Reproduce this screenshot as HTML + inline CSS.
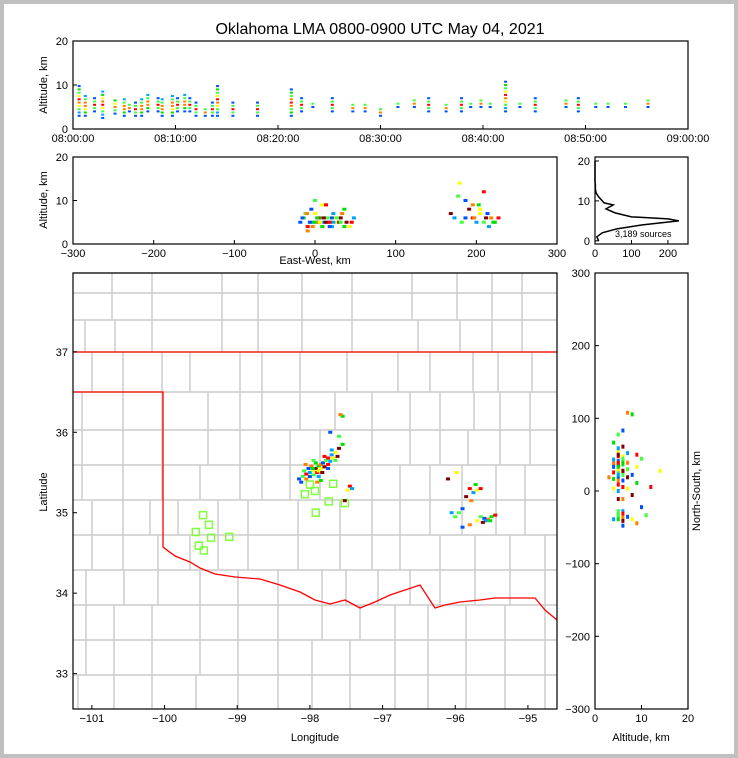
<!DOCTYPE html>
<html><head><meta charset="utf-8"><style>
html,body{margin:0;padding:0;background:#c0c0c0;}
#wrap{position:absolute;left:4px;top:4px;width:730px;height:750px;background:#fff;}
svg{position:absolute;left:0;top:0;font-family:"Liberation Sans",sans-serif;}
</style></head><body>
<div id="wrap"></div>
<svg id="chart" width="738" height="758"></svg>
<script>
// ---- data ----
const timeCols = [0.6,1.2,2.1,2.9,4.1,5,5.5,6.1,6.7,7.3,8.3,8.7,9.7,10.2,10.9,11.4,12,12.9,13.6,14.1,15.6,18,21.3,22.3,23.4,25.3,27.3,28.5,30,31.7,33.3,34.7,36.4,37.9,38.8,39.8,40.7,42.2,43.6,45.1,48.1,49.3,51,52.2,53.9,56.1];
const colLow  = [3,3,4,2.5,3.5,3,4,3,3,4,4,3,3,4,4,4,3,3,3,3,3,3,3,4,5,4,4,4,3,5,5,4,4,4,5,5,5,4,5,4,5,4,5,5,5,5];
const colHigh = [10,8,7,9,7,7,6,6,7,8,7,7,8,7,8,7,6,5,6,10,6,6,9,7,6,7,6,6,5,6,7,7,6,7,6,7,6,11,6,7,7,7,6,6,6,7];
const srcLon = [-98.15,-98.10,-98.05,-98.00,-97.95,-97.92,-97.88,-97.85,-97.82,-97.78,-97.75,-97.70,-97.65,-97.60,-97.55,-98.05,-98.00,-97.95,-97.90,-97.88,-97.85,-97.80,-97.92,-97.98,-98.02,-98.08,-97.75,-97.72,-97.68,-97.62,-97.85,-97.90,-98.12,-97.95,-97.80,-97.70,-97.88,-97.83,-97.96,-98.06,-97.75,-97.65,
 -97.45,-97.42,-97.48,-97.52,-97.55,-97.58,-97.72,-97.60,
 -95.80,-95.75,-95.70,-95.85,-95.72,-95.78,-95.90,-95.95,-95.65,-96.05,-95.98,-96.10,
 -95.50,-95.55,-95.60,-95.65,-95.45,-95.58,-95.70,-95.62,-95.52,-95.80,-95.90,-96.00];
const srcLat = [35.42,35.45,35.48,35.50,35.52,35.55,35.58,35.60,35.62,35.65,35.68,35.72,35.75,35.80,35.85,35.42,35.45,35.47,35.50,35.45,35.55,35.57,35.62,35.58,35.55,35.52,35.60,35.64,35.68,35.70,35.40,35.38,35.38,35.65,35.70,35.78,35.52,35.50,35.55,35.60,35.55,35.65,
 35.33,35.30,35.28,35.15,36.20,36.22,36.00,35.95,
 35.30,35.25,35.28,35.20,35.35,35.15,35.05,35.00,35.30,35.00,35.50,35.42,
 34.95,34.92,34.93,34.95,34.97,34.90,34.90,34.88,34.90,34.85,34.82,34.95];
const srcAlt = [5,6,4,5,7,5,6,4,5,6,5,7,5,6,4,3,8,5,6,5,9,5,6,4,5,7,5,4,6,5,4,5,6,10,9,5,5,6,5,7,4,6,
 5,6,4,5,8,7,6,5,
 6,5,7,8,9,6,10,5,12,6,14,7,
 5,6,7,5,6,4,8,6,5,9,6,11];
const histAlt   = [0,1,2,3,4,5,5.5,6,7,8,9,9.5,10,11,12,13,14,15,20];
const histCount = [10,5,20,60,130,230,200,100,55,30,50,25,20,10,3,1,1,0,0];
const stnLon = [-99.47,-99.39,-99.57,-99.36,-99.11,-99.53,-99.46,-98.00,-97.93,-98.07,-97.68,-97.74,-97.52,-97.92];
const stnLat = [34.97,34.85,34.76,34.69,34.70,34.59,34.53,35.35,35.27,35.23,35.36,35.14,35.12,35.00];
const timeTicks = ["08:00:00","08:10:00","08:20:00","08:30:00","08:40:00","08:50:00","09:00:00"];
const ewTicks = [-300,-200,-100,0,100,200,300];
const lonTicks = [-101,-100,-99,-98,-97,-96,-95];
const latTicks = [33,34,35,36,37];
const nsTicks = [300,200,100,0,-100,-200,-300];
const altTicks = [0,10,20];
const histTicks = [0,100,200];
const palette = ["#0050ff","#00a0ff","#00e000","#40ff40","#ffff00","#ff8000","#ff0000","#800000"];

// ---- axes ----
const svg = document.getElementById('chart');
const NS='http://www.w3.org/2000/svg';
function el(t,a,p){const e=document.createElementNS(NS,t);for(const k in a)e.setAttribute(k,a[k]);(p||svg).appendChild(e);return e;}
const P1={x0:73,x1:688,y0:41,y1:129}, P2={x0:73,x1:557,y0:157,y1:244}, P3={x0:595,x1:688,y0:157,y1:244}, P4={x0:73,x1:557,y0:273,y1:709}, P5={x0:595,x1:688,y0:273,y1:709};
const tx=m=>P1.x0+m/60*(P1.x1-P1.x0), ty=a=>P1.y1-a/20*(P1.y1-P1.y0);
const ex=k=>P2.x0+(k+300)/600*(P2.x1-P2.x0), ey=a=>P2.y1-a/20*(P2.y1-P2.y0);
const hx=c=>P3.x0+c/255*(P3.x1-P3.x0), hy=a=>P3.y1-(a+0.8)/21.8*(P3.y1-P3.y0);
const lx=l=>P4.x0+(l+101.26)/6.66*(P4.x1-P4.x0), ly=l=>P4.y1-(l-32.56)/5.42*(P4.y1-P4.y0);
const nx=a=>P5.x0+a/20*(P5.x1-P5.x0), ny=k=>P5.y1-(k+300)/600*(P5.y1-P5.y0);
const toEW=l=>(l+97.95)*91, toNS=l=>(l-35.25)*111;

el('text',{x:380,y:34,'text-anchor':'middle','font-size':16,}).textContent='Oklahoma LMA 0800-0900 UTC May 04, 2021';

function frame(P,name){el('rect',{x:P.x0,y:P.y0,width:P.x1-P.x0,height:P.y1-P.y0,fill:'none',stroke:'#000','stroke-width':1.2,});}
function xt(P,x,lab,name){el('line',{x1:x,x2:x,y1:P.y1,y2:P.y1-4,stroke:'#000'});const t=el('text',{x:x,y:P.y1+13,'text-anchor':'middle','font-size':11});t.textContent=lab;}
function yt(P,y,lab,name){el('line',{x1:P.x0,x2:P.x0+4,y1:y,y2:y,stroke:'#000'});const t=el('text',{x:P.x0-5,y:y+4,'text-anchor':'end','font-size':11});t.textContent=lab;}

// panel 1: time-altitude
const g1=el('g',{});
timeCols.forEach((m,i)=>{
  const lo=colLow[i], hi=colHigh[i], mid=(lo+hi)/2;
  for(let a=lo;a<=hi;a+=0.75){
    const d=Math.abs(a-mid)/((hi-lo)/2+0.01);
    const c=palette[Math.max(0,Math.min(7,Math.round((1-d)*6)))];
    const r=el('rect',{x:tx(m)-1.5,y:ty(a)-1,width:3,height:2,fill:c},g1);
    
    
  }
});
frame(P1,'time-altitude-frame');
timeTicks.forEach((t,i)=>xt(P1,tx(i*10),t,'time-tick-label'));
altTicks.forEach(a=>yt(P1,ty(a),a,'altitude-tick-label'));
el('text',{x:47,y:85,'text-anchor':'middle','font-size':11,transform:'rotate(-90 47 85)',}).textContent='Altitude, km';

// panel 2: east-west altitude
const g2=el('g',{});
srcLon.forEach((l,i)=>{const r=el('rect',{x:ex(toEW(l))-2,y:ey(srcAlt[i])-1.5,width:4,height:3,fill:palette[(i*3)%8]},g2);
 
 });
frame(P2,'ew-altitude-frame');
ewTicks.forEach(k=>xt(P2,ex(k),k<0?'\u2212'+(-k):k,'ew-tick-label'));
altTicks.forEach(a=>yt(P2,ey(a),a,'altitude-tick-label'));
el('text',{x:315,y:264,'text-anchor':'middle','font-size':11,}).textContent='East-West, km';
el('text',{x:47,y:200,'text-anchor':'middle','font-size':11,transform:'rotate(-90 47 200)',}).textContent='Altitude, km';

// panel 3: histogram
el('polyline',{points:histAlt.map((a,i)=>hx(histCount[i])+','+hy(a)).join(' '),fill:'none',stroke:'#000','stroke-width':1.5,});
frame(P3,'histogram-frame');
histTicks.forEach(c=>xt(P3,hx(c),c,'histogram-tick-label'));
[0,10,20].forEach(a=>yt(P3,hy(a),a,'histogram-altitude-tick'));
el('text',{x:615,y:237,'font-size':9,}).textContent='3,189 sources';

// panel 4: map
const g4=el('g',{});
const rows=[[273,293,[112,152,222,258,302,352,412,457,492,522]],[293,320,[112,152,222,258,302,352,412,457,492,522]],[320,352,[85,115,152,222,258,302,352,418,460,492,522]],
[352,392,[92,123,162,190,240,262,300,347,398,430,473,498,532]],[392,430,[82,123,162,208,240,262,300,335,372,410,440,474,500,530]],[430,465,[82,123,162,208,240,262,290,320,372,410,440,468,500,530]],
[465,500,[82,123,162,200,240,262,290,320,372,400,430,462,496,525]],[500,535,[92,123,150,178,218,248,298,340,372,400,430,462,496,525]],[535,570,[92,123,158,190,218,248,298,340,372,400,440,475,510,545]],
[570,605,[86,124,158,200,238,278,322,346,378,410,440,475,510,545]],[605,640,[86,114,152,200,238,278,322,360,395,428,466,505,545]],[640,675,[86,114,152,200,238,278,312,350,395,428,466,505,545]],[675,709,[78,114,152,196,238,278,312,350,395,428,466,505,545]]];
rows.forEach(r=>{
  const h=el('line',{x1:P4.x0,x2:P4.x1,y1:r[0],y2:r[0],stroke:'#cccccc','stroke-width':1.5},g4);
  
  
  r[2].forEach(x=>{const v=el('line',{x1:x,x2:x,y1:r[0],y2:r[1],stroke:'#cccccc','stroke-width':1.5},g4);
   
   });
});
el('polyline',{points:'73,352 557,352',fill:'none',stroke:'#ff0000','stroke-width':1.3,},g4);
el('polyline',{points:'73,392 163,392 163,547 175,556 190,562 200,568 215,574 235,577 260,579 280,585 300,592 315,600 330,604 345,600 360,608 375,602 390,595 405,590 420,585 435,608 445,605 460,602 480,600 495,598 515,598 535,598 545,610 557,620',fill:'none',stroke:'#ff0000','stroke-width':1.3,},g4);
stnLon.forEach((l,i)=>{const r=el('rect',{x:lx(l)-3.5,y:ly(stnLat[i])-3.5,width:7,height:7,fill:'none',stroke:'#80ff40','stroke-width':1.5},g4);
 
 });
srcLon.forEach((l,i)=>{const r=el('rect',{x:lx(l)-2,y:ly(srcLat[i])-1.5,width:4,height:3,fill:palette[(i*3)%8]},g4);
 
 });
frame(P4,'map-frame');
lonTicks.forEach(l=>xt(P4,lx(l),'\u2212'+(-l),'longitude-tick-label'));
latTicks.forEach(l=>yt(P4,ly(l),l,'latitude-tick-label'));
el('text',{x:315,y:741,'text-anchor':'middle','font-size':11,}).textContent='Longitude';
el('text',{x:47,y:492,'text-anchor':'middle','font-size':11,transform:'rotate(-90 47 492)',}).textContent='Latitude';

// panel 5: NS altitude
const g5=el('g',{});
srcLat.forEach((l,i)=>{const r=el('rect',{x:nx(srcAlt[i])-1.5,y:ny(toNS(l))-2,width:3,height:4,fill:palette[(i*3)%8]},g5);
 
 });
frame(P5,'ns-altitude-frame');
[0,10,20].forEach(a=>xt(P5,nx(a),a,'ns-altitude-tick'));
nsTicks.forEach(k=>yt(P5,ny(k),k<0?'\u2212'+(-k):k,'ns-tick-label'));
el('text',{x:641,y:741,'text-anchor':'middle','font-size':11,}).textContent='Altitude, km';
el('text',{x:700,y:491,'text-anchor':'middle','font-size':11,transform:'rotate(-90 700 491)',}).textContent='North-South, km';
</script>
</body></html>
